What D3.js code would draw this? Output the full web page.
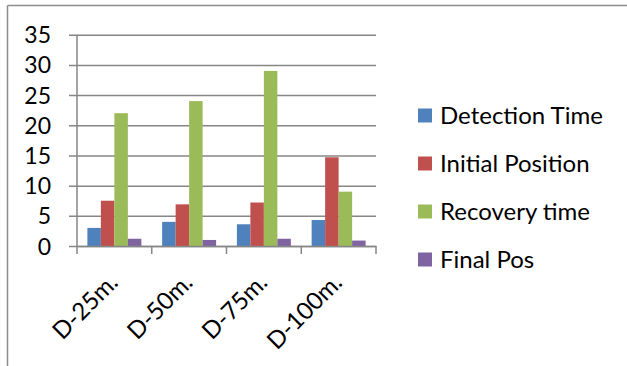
<!DOCTYPE html>
<html>
<head>
<meta charset="utf-8">
<script src="https://cdn.jsdelivr.net/npm/d3@7"></script>
<style>
  html, body { margin: 0; padding: 0; background: #fff; }
  svg { display: block; }
  text { font-family: Lato, "Noto Sans", sans-serif; fill: #000; }
</style>
</head>
<body>
<svg id="chart" width="627" height="366"></svg>
<script>
const categories = ["D-25m.", "D-50m.", "D-75m.", "D-100m."];
const seriesNames = ["Detection Time", "Initial Position", "Recovery time", "Final Pos"];
const detectionTime = [3.0, 4.0, 3.6, 4.3];
const initialPosition = [7.5, 6.9, 7.2, 14.7];
const recoveryTime = [22, 24, 29, 9.0];
const finalPos = [1.2, 1.0, 1.2, 0.9];
const yTicks = [0, 5, 10, 15, 20, 25, 30, 35];
const colors = ["#4F81BD", "#C0504D", "#9BBB59", "#8064A2"];

const seriesValues = [detectionTime, initialPosition, recoveryTime, finalPos];
const svg = d3.select("#chart");

// outer frame (top and left edges visible)
svg.append("line").attr("x1", 7.5).attr("x2", 627).attr("y1", 5.5).attr("y2", 5.5)
  .attr("stroke", "#8c8c8c").attr("stroke-width", 1.5);
svg.append("line").attr("x1", 7.5).attr("x2", 7.5).attr("y1", 5.5).attr("y2", 366)
  .attr("stroke", "#8c8c8c").attr("stroke-width", 1.5);

const plotLeft = 77, plotRight = 376, plotTop = 34.7, plotBottom = 246;
const y = d3.scaleLinear().domain([0, 35]).range([plotBottom, plotTop]);
const x0 = d3.scaleBand().domain(categories).range([plotLeft, plotRight]).padding(0);
const x1 = d3.scaleBand().domain(seriesNames).range([0, x0.bandwidth()]).paddingInner(0).paddingOuter(0.77);

const gridColor = "#868686";
// gridlines + y ticks
const yAxis = d3.axisLeft(y).tickValues(yTicks).tickSize(-(plotRight - plotLeft)).tickSizeOuter(0).tickPadding(0).tickFormat(d3.format("d"));
const gy = svg.append("g").attr("transform", `translate(${plotLeft},0)`).call(yAxis);
gy.select(".domain").remove();
gy.selectAll(".tick line").attr("stroke", gridColor).attr("stroke-width", 1.5).attr("x1", -8);
gy.selectAll(".tick text").attr("x", -26).attr("dy", "0.35em").style("font-size", "23px").style("font-family", "Lato, sans-serif");

// bars
const groups = svg.append("g").selectAll("g").data(categories).join("g")
  .attr("transform", d => `translate(${x0(d)},0)`);
groups.selectAll("rect").data((c, i) => seriesNames.map((s, j) => ({ s, j, v: seriesValues[j][i] })))
  .join("rect")
  .attr("x", d => x1(d.s))
  .attr("width", x1.bandwidth())
  .attr("y", d => y(d.v))
  .attr("height", d => y(0) - y(d.v))
  .attr("fill", d => colors[d.j]);

// y axis line
svg.append("line").attr("x1", plotLeft).attr("x2", plotLeft).attr("y1", plotTop).attr("y2", plotBottom)
  .attr("stroke", gridColor).attr("stroke-width", 1.5);

// x axis
const xAxis = d3.axisBottom(x0).tickSize(0).tickFormat("");
const gx = svg.append("g").attr("transform", `translate(0,${plotBottom})`).call(xAxis);
gx.select(".domain").attr("stroke", gridColor).attr("stroke-width", 1.5);
// category boundary ticks
const bounds = categories.map(c => x0(c)).concat([x0.range()[1]]);
svg.append("g").selectAll("line").data(bounds).join("line")
  .attr("x1", d => d).attr("x2", d => d).attr("y1", plotBottom).attr("y2", plotBottom + 8)
  .attr("stroke", gridColor).attr("stroke-width", 1.5);

// x labels rotated
svg.append("g").selectAll("text").data(categories).join("text")
  .attr("transform", d => `translate(${x0(d) + x0.bandwidth() / 2 + 5},284) rotate(-45)`)
  .attr("text-anchor", "end")
  .style("font-size", "24px")
  .text(d => d);

// legend
const legend = svg.append("g").selectAll("g").data(seriesNames).join("g")
  .attr("transform", (d, i) => `translate(418,${115.5 + i * 48})`);
legend.append("rect").attr("x", 0).attr("y", -7).attr("width", 14).attr("height", 14)
  .attr("fill", (d, i) => colors[i]);
legend.append("text").attr("x", 22).attr("dy", "0.35em").style("font-size", "24px").text(d => d);
</script>
</body>
</html>
